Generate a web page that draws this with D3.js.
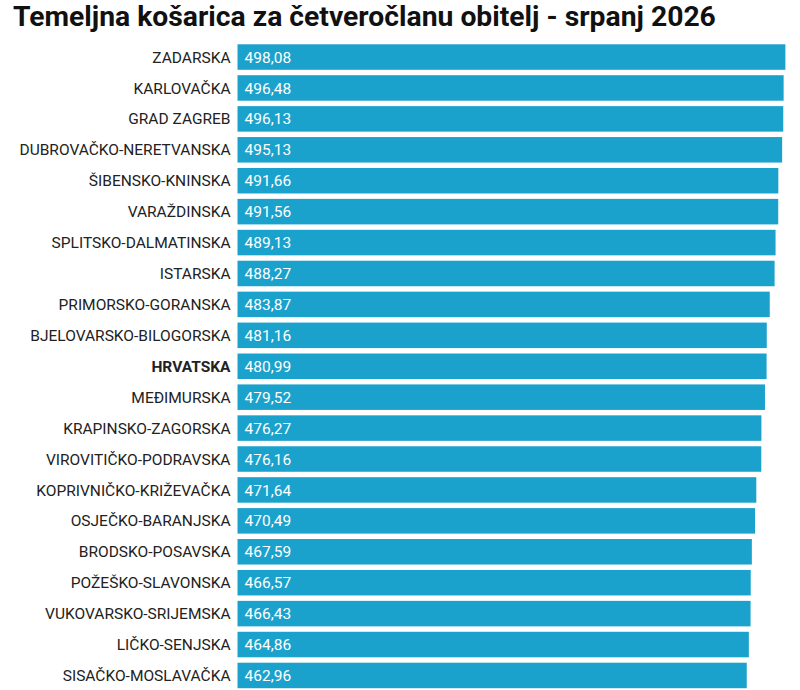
<!DOCTYPE html>
<html><head><meta charset="utf-8">
<script src="https://cdn.jsdelivr.net/npm/d3@7"></script>
<style>body{margin:0;background:#fff;}svg{display:block;font-family:Roboto,sans-serif;}</style>
</head><body><svg id="c" width="800" height="690"></svg>
<script>
const title = "Temeljna košarica za četveročlanu obitelj - srpanj 2026";
const categories = ["ZADARSKA","KARLOVAČKA","GRAD ZAGREB","DUBROVAČKO-NERETVANSKA","ŠIBENSKO-KNINSKA","VARAŽDINSKA","SPLITSKO-DALMATINSKA","ISTARSKA","PRIMORSKO-GORANSKA","BJELOVARSKO-BILOGORSKA","HRVATSKA","MEĐIMURSKA","KRAPINSKO-ZAGORSKA","VIROVITIČKO-PODRAVSKA","KOPRIVNIČKO-KRIŽEVAČKA","OSJEČKO-BARANJSKA","BRODSKO-POSAVSKA","POŽEŠKO-SLAVONSKA","VUKOVARSKO-SRIJEMSKA","LIČKO-SENJSKA","SISAČKO-MOSLAVAČKA"];
const values = [498.08,496.48,496.13,495.13,491.66,491.56,489.13,488.27,483.87,481.16,480.99,479.52,476.27,476.16,471.64,470.49,467.59,466.57,466.43,464.86,462.96];
const highlight = ["HRVATSKA"];

const svg = d3.select("#c");
svg.append("text").attr("x",13).attr("y",26).attr("font-size",28.3).attr("font-weight",700).attr("fill","#111").text(title);

const left = 237.5;
const x = d3.scaleLinear().domain([0,500]).range([0,550]);
const y = d3.scaleBand().domain(categories).range([41.5,691]).paddingInner(0.175).paddingOuter(0.09);

const g = svg.append("g").attr("transform",`translate(${left},0)`);
const data = categories.map((c,i)=>({c,v:values[i]}));
g.selectAll("rect").data(data).join("rect")
  .attr("x",0).attr("y",d=>y(d.c)).attr("width",d=>x(d.v)).attr("height",y.bandwidth()).attr("fill","#1ba2cc");
g.selectAll("text.val").data(data).join("text").attr("class","val")
  .attr("x",7).attr("y",d=>y(d.c)+y.bandwidth()/2).attr("dy","0.36em")
  .attr("font-size",15.5).attr("fill","#fff").text(d=>d3.format(".2f")(d.v).replace(".",","));
g.selectAll("text.cat").data(data).join("text").attr("class","cat")
  .attr("x",-7).attr("y",d=>y(d.c)+y.bandwidth()/2).attr("dy","0.36em").attr("text-anchor","end")
  .attr("font-size",15.5).attr("fill","#222").attr("font-weight",d=>highlight.includes(d.c)?700:400).text(d=>d.c);
</script></body></html>
